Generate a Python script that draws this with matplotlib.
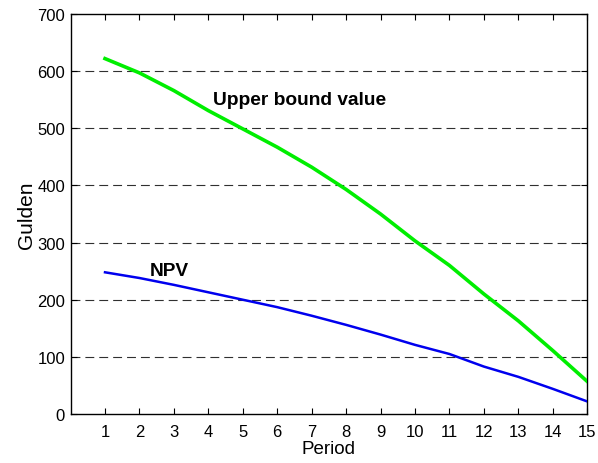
import numpy as np
import matplotlib
matplotlib.use('Agg')
from matplotlib import pyplot as plt

plt.rcParams['font.family'] = ['Liberation Sans', 'DejaVu Sans']

periods = [1, 2, 3, 4, 5, 6, 7, 8, 9, 10, 11, 12, 13, 14, 15]
upper_bound = [622, 597, 566, 531, 499, 467, 432, 393, 350, 303, 260, 210, 163, 111, 57]
npv = [248, 238, 226, 213, 200, 187, 172, 156, 139, 121, 105, 83, 65, 44, 22]
y_ticks = [0, 100, 200, 300, 400, 500, 600, 700]

fig = plt.figure(figsize=(5.98, 4.64), dpi=100)
ax = fig.add_axes([0.118, 0.1056, 0.864, 0.862])

for y in y_ticks[1:-1]:
    ax.axhline(y, color='#303030', lw=0.8, dashes=(8, 4.5), zorder=1)

ax.plot(periods, upper_bound, color='#00ee00', lw=2.6, zorder=3)
ax.plot(periods, npv, color='#0000ee', lw=1.8, zorder=3)

ax.text(4.14, 551, 'Upper bound value', fontsize=13.8, fontweight='bold', va='center')
ax.text(2.31, 251, 'NPV', fontsize=13.8, fontweight='bold', va='center')

ax.set_xlim(0, 15)
ax.set_ylim(0, 700)
ax.set_xticks(periods)
ax.set_yticks(y_ticks)
ax.tick_params(direction='in', length=4, top=True, right=True, labelsize=12)
ax.tick_params(axis='x', pad=7)
ax.tick_params(axis='y', pad=4)
for s in ax.spines.values():
    s.set_linewidth(1.0)
ax.set_xlabel('Period', fontsize=13.5, labelpad=1)
ax.set_ylabel('Gulden', fontsize=15, labelpad=1)

plt.savefig('out.png', dpi=100)
